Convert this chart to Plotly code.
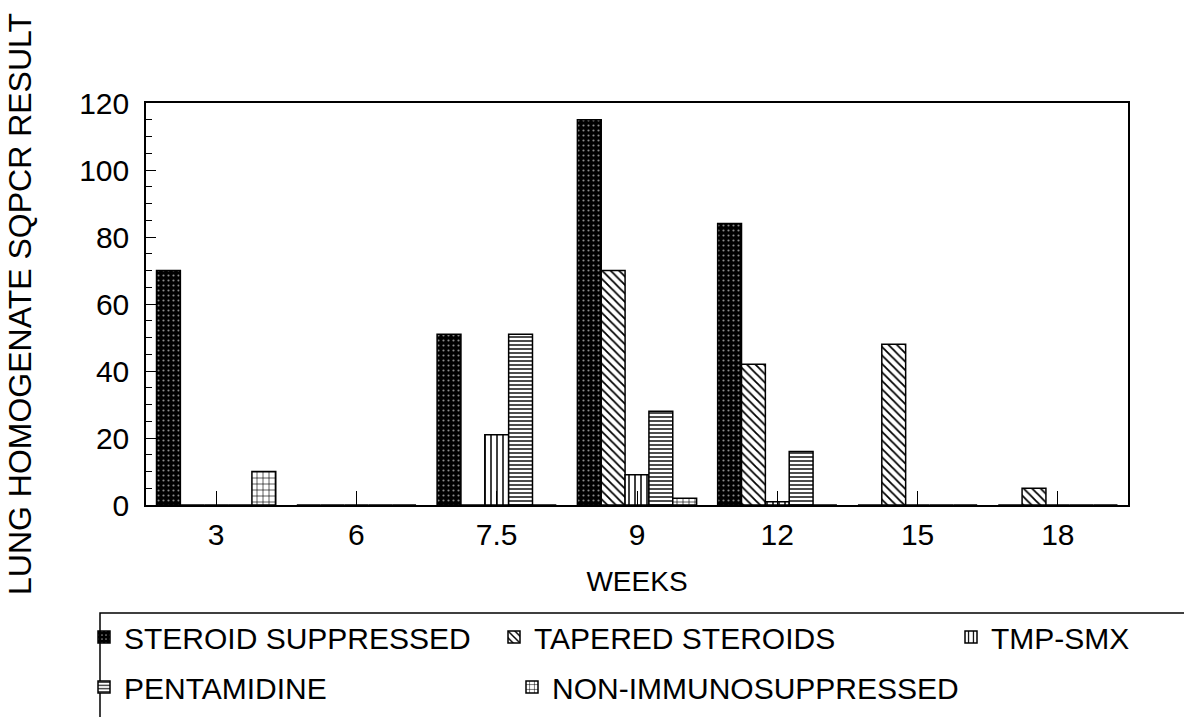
import plotly.graph_objects as go

weeks = ["3", "6", "7.5", "9", "12", "15", "18"]
steroid_suppressed = [70, 0, 51, 115, 84, 0, 0]
tapered_steroids = [0, 0, 0, 70, 42, 48, 5]
tmp_smx = [0, 0, 21, 9, 1, 0, 0]
pentamidine = [0, 0, 51, 28, 16, 0, 0]
non_immunosuppressed = [10, 0, 0, 2, 0, 0, 0]

series_names = ["STEROID SUPPRESSED", "TAPERED STEROIDS", "TMP-SMX",
                "PENTAMIDINE", "NON-IMMUNOSUPPRESSED"]
series_values = [steroid_suppressed, tapered_steroids, tmp_smx,
                 pentamidine, non_immunosuppressed]

FONT = "Liberation Sans, Arial, Helvetica, sans-serif"
W, H = 1184, 717
L, R, T, B = 146, 1128, 103, 505

def px_x(p):
    return (p - L) / (R - L)

def px_y(p):
    return (B - p) / (B - T)

patterns = [
    dict(shape=".", bgcolor="black", fgcolor="#8c8c8c", size=5, solidity=0.15, fillmode="replace"),
    dict(shape="\\", bgcolor="white", fgcolor="black", size=6, solidity=0.3, fillmode="replace"),
    dict(shape="|", bgcolor="white", fgcolor="black", size=6, solidity=0.25, fillmode="replace"),
    dict(shape="-", bgcolor="white", fgcolor="black", size=4, solidity=0.35, fillmode="replace"),
    dict(shape="+", bgcolor="white", fgcolor="black", size=6, solidity=0.2, fillmode="replace"),
]
colors = ["black", "white", "white", "white", "white"]

# legend placement (pixel positions of item start and row centre)
leg_pos = [(84, 637), (494, 637), (951, 637), (84, 687), (512, 687)]

fig = go.Figure()
for i, (name, vals) in enumerate(zip(series_names, series_values)):
    lg = "legend" if i == 0 else f"legend{i+1}"
    fig.add_trace(go.Bar(
        x=weeks, y=vals, name=name,
        marker=dict(color=colors[i], pattern=patterns[i],
                    line=dict(color="black", width=1.5)),
        legend=lg, showlegend=True,
    ))

layout_legends = {}
for i, (lx, ly) in enumerate(leg_pos):
    key = "legend" if i == 0 else f"legend{i+1}"
    layout_legends[key] = dict(
        x=px_x(lx), y=px_y(ly), xanchor="left", yanchor="middle",
        xref="paper", yref="paper",
        bgcolor="rgba(0,0,0,0)", borderwidth=0,
        font=dict(family=FONT, size=30, color="black"),
        itemwidth=30, visible=True,
    )

fig.update_layout(
    width=W, height=H,
    margin=dict(l=L, r=W - R, t=T, b=H - B, pad=0, autoexpand=False),
    paper_bgcolor="white", plot_bgcolor="white",
    barmode="group", bargap=0.15, bargroupgap=0,
    font=dict(family=FONT, color="black"),
    showlegend=True,
    **layout_legends,
)

fig.update_xaxes(
    type="category", showline=True, linecolor="black", linewidth=1.5, mirror=True,
    ticks="inside", ticklen=14, tickwidth=1.2, tickcolor="black",
    tickfont=dict(family=FONT, size=30), ticklabelstandoff=2,
    showgrid=False,
    title=dict(text="WEEKS", font=dict(family=FONT, size=28), standoff=22),
)
fig.update_yaxes(
    range=[0, 120], dtick=20, tick0=0,
    showline=True, linecolor="black", linewidth=1.5, mirror=True,
    ticks="inside", ticklen=10, tickwidth=1.2, tickcolor="black",
    minor=dict(dtick=5, ticks="inside", ticklen=6, tickwidth=1, tickcolor="black", showgrid=False),
    tickfont=dict(family=FONT, size=30), ticklabelstandoff=9,
    showgrid=False, zeroline=False,
    title=dict(text="LUNG HOMOGENATE SQPCR RESULT", font=dict(family=FONT, size=32), standoff=38),
)

# legend frame
fig.add_shape(type="rect", xref="paper", yref="paper",
              x0=px_x(100), x1=px_x(1200), y0=px_y(613), y1=px_y(730),
              line=dict(color="black", width=1.5), fillcolor="rgba(0,0,0,0)")

fig.write_html("out.html")
